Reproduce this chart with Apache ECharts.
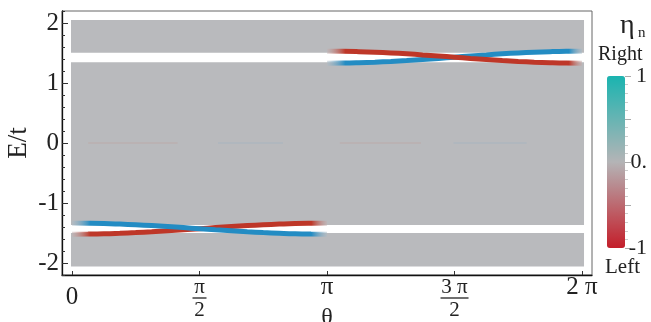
<!DOCTYPE html>
<html><head><meta charset="utf-8">
<script src="https://cdn.jsdelivr.net/npm/echarts@6/dist/echarts.min.js"></script>
<style>html,body{margin:0;padding:0;background:#fff}#c{width:651px;height:322px}</style>
</head><body><div id="c"></div>
<script>
// ---- data ----
const thetaLower = [0, 0.196, 0.393, 0.589, 0.785, 0.982, 1.178, 1.374, 1.571, 1.767, 1.963, 2.160, 2.356, 2.553, 2.749, 2.945, 3.142];
const thetaUpper = [3.142, 3.338, 3.534, 3.731, 3.927, 4.123, 4.320, 4.516, 4.712, 4.909, 5.105, 5.301, 5.498, 5.694, 5.890, 6.087, 6.283];
const lowerBlueE = [-1.336, -1.338, -1.343, -1.352, -1.363, -1.377, -1.393, -1.410, -1.428, -1.446, -1.463, -1.479, -1.493, -1.504, -1.513, -1.518, -1.520];
const lowerRedE  = [-1.520, -1.518, -1.513, -1.504, -1.493, -1.479, -1.463, -1.446, -1.428, -1.410, -1.393, -1.377, -1.363, -1.352, -1.343, -1.338, -1.336];
const upperRedE  = [1.530, 1.528, 1.522, 1.513, 1.501, 1.486, 1.468, 1.450, 1.430, 1.410, 1.392, 1.374, 1.359, 1.347, 1.338, 1.332, 1.330];
const upperBlueE = [1.330, 1.332, 1.338, 1.347, 1.359, 1.374, 1.392, 1.410, 1.430, 1.450, 1.468, 1.486, 1.501, 1.513, 1.522, 1.528, 1.530];
const bandLow  = [-2.06, -1.367, 1.505];
const bandHigh = [-1.5, 1.345, 2.05];
const bandTheta = [0, 6.283];
const zeroRedSegs  = [[0.2, 1.3], [3.3, 4.3]];
const zeroBlueSegs = [[1.8, 2.6], [4.7, 5.6]];
const xTickValues = [0, 1.5708, 3.1416, 4.7124, 6.2832];
const xTickLabels = ['0', 'π/2', 'π', '3 π/2', '2 π'];
const yTickValues = [-2, -1, 0, 1, 2];
const etaTickValues = [-1, 0, 1];
const etaTickLabels = ['-1', '0.', '1'];
const etaMajorTicks = [-1, -0.5, 0, 0.5, 1];

// ---- styles ----
const SERIF = '"Liberation Serif","DejaVu Serif",serif';
const GRAY = '#b9babd';
const BLUE = '#238cc3';
const RED = '#be3728';
const etaMinorTicks = [];
for (let k = -10; k <= 10; k++) if (k % 5 !== 0) etaMinorTicks.push(k / 10);
function fade(c, a, b) {
  return {type: 'linear', x: 0, y: 0, x2: 1, y2: 0, colorStops: [
    {offset: 0, color: 'rgba(195,195,198,0.4)'}, {offset: a, color: c},
    {offset: b, color: c}, {offset: 1, color: 'rgba(195,195,198,0.4)'}]};
}
function xLabel(v) {
  let i = 0, best = 1e9;
  xTickValues.forEach((t, k) => { if (Math.abs(t - v) < best) { best = Math.abs(t - v); i = k; } });
  const s = xTickLabels[i];
  if (s.indexOf('/') >= 0) {
    const p = s.split('/');
    return '{n|' + p[0] + '}\n{' + (p[0].length > 1 ? 'b2' : 'b1') + '| }\n{d|' + p[1] + '}';
  }
  return s.indexOf('π') >= 0 ? '{sp|' + s + '}' : '{s|' + s + '}';
}
function etaLabel(v) {
  let i = 0, best = 1e9;
  etaTickValues.forEach((t, k) => { if (Math.abs(t - v) < best) { best = Math.abs(t - v); i = k; } });
  return etaTickLabels[i];
}
function lineSeries(th, e, color, a, b) {
  return {type: 'line', data: th.map((t, i) => [t, e[i]]), smooth: true, symbol: 'none',
    lineStyle: {width: 5, color: fade(color, a, b)}, z: 5, silent: true};
}
function segSeries(segs, color) {
  const d = [];
  segs.forEach(s => { d.push([s[0], 0], [s[1], 0], '-'); });
  return {type: 'line', data: d, symbol: 'none', connectNulls: false,
    lineStyle: {width: 1.5, color: color}, z: 4, silent: true};
}

const chart = echarts.init(document.getElementById('c'), null, {renderer: 'canvas'});
chart.setOption({
  animation: false,
  backgroundColor: '#fff',
  grid: [
    {left: 62, top: 11, width: 530, height: 264, show: true, borderColor: '#666', borderWidth: 1,
     backgroundColor: 'transparent', outerBoundsMode: 'none', containLabel: false},
    {left: 607, top: 58.8, width: 18, height: 206.4, show: false, outerBoundsMode: 'none', containLabel: false}
  ],
  xAxis: [
    {type: 'value', gridIndex: 0, position: 'bottom', min: -0.123, max: 6.406,
     axisLine: {onZero: false, lineStyle: {color: '#111', width: 1.3}},
     axisTick: {inside: true, length: 4, customValues: xTickValues, lineStyle: {color: '#333'}},
     axisLabel: {customValues: xTickValues, margin: 4, formatter: xLabel, color: '#222',
       rich: {
         s: {fontFamily: SERIF, fontSize: 25, lineHeight: 36, color: '#222'},
         sp: {fontFamily: SERIF, fontSize: 25, lineHeight: 17, color: '#222'},
         n: {fontFamily: SERIF, fontSize: 21, lineHeight: 17, color: '#222'},
         d: {fontFamily: SERIF, fontSize: 21, lineHeight: 20, color: '#222'},
         b1: {width: 14, height: 1.3, lineHeight: 4, fontSize: 1, backgroundColor: '#222'},
         b2: {width: 28, height: 1.3, lineHeight: 4, fontSize: 1, backgroundColor: '#222'}
       }},
     splitLine: {show: false},
     name: 'θ', nameLocation: 'middle', nameGap: 31, nameMoveOverlap: false,
     nameTextStyle: {fontFamily: SERIF, fontSize: 24, color: '#222', verticalAlign: 'top'}},
    {type: 'value', gridIndex: 1, show: false, min: 0, max: 1, axisLine: {onZero: false}}
  ],
  yAxis: [
    {type: 'value', gridIndex: 0, position: 'left', min: -2.2, max: 2.2, interval: 0.2,
     axisLine: {show: true, onZero: false, lineStyle: {color: '#111', width: 1.3}},
     axisTick: {inside: true, length: 3, lineStyle: {color: '#333'}},
     axisLabel: {show: false}, splitLine: {show: false}},
    {type: 'value', gridIndex: 0, position: 'left', offset: 0, min: -2.2, max: 2.2,
     axisLine: {show: false, onZero: false},
     axisTick: {inside: true, length: 6, customValues: yTickValues, lineStyle: {color: '#333'}},
     axisLabel: {customValues: yTickValues, margin: 3, fontFamily: SERIF, fontSize: 25, color: '#222'},
     splitLine: {show: false},
     name: 'E/t', nameLocation: 'middle', nameRotate: 90, nameGap: 30, nameMoveOverlap: false,
     nameTextStyle: {fontFamily: SERIF, fontSize: 27, color: '#222'}},
    {type: 'value', gridIndex: 1, position: 'right', min: -1.2, max: 1.2,
     axisLine: {show: false, onZero: false},
     axisTick: {show: true, length: 6, customValues: etaMajorTicks, lineStyle: {color: '#aaa'}},
     axisLabel: {customValues: etaTickValues, margin: 22, align: 'right', fontFamily: SERIF, fontSize: 22,
       color: '#222', formatter: etaLabel},
     splitLine: {show: false}},
    {type: 'value', gridIndex: 1, position: 'right', offset: 0, min: -1.2, max: 1.2,
     axisLine: {show: false, onZero: false},
     axisTick: {show: true, length: 3, customValues: etaMinorTicks, lineStyle: {color: '#ccc'}},
     axisLabel: {show: false}, splitLine: {show: false}}
  ],
  visualMap: [{
    type: 'continuous', min: -1, max: 1, seriesIndex: [], orient: 'vertical',
    left: 607, top: 76, itemWidth: 18, itemHeight: 172, padding: 0,
    calculable: false, text: null, showLabel: false,
    inRange: {color: ['#c41e2a', '#b4b4b6', '#1ab4b0']}
  }],
  graphic: [
    {type: 'text', left: 620, top: 12, style: {text: 'η', font: '28px ' + SERIF, fill: '#222'}},
    {type: 'text', left: 638, top: 26, style: {text: 'n', font: '15px ' + SERIF, fill: '#222'}},
    {type: 'text', left: 598, top: 45, style: {text: 'Right', font: '20px ' + SERIF, fill: '#222'}},
    {type: 'text', left: 605, top: 257, style: {text: 'Left', font: '21px ' + SERIF, fill: '#222'}}
  ],
  series: [
    {type: 'custom', xAxisIndex: 0, yAxisIndex: 0, z: 2, silent: true,
     data: bandLow.map((l, i) => [bandTheta[0], bandTheta[1], l, bandHigh[i]]),
     encode: {x: [0, 1], y: [2, 3]},
     renderItem: (params, api) => {
       const p1 = api.coord([api.value(0), api.value(3)]);
       const p2 = api.coord([api.value(1), api.value(2)]);
       return {type: 'rect', shape: {x: p1[0] - 1, y: p1[1], width: p2[0] - p1[0] + 3, height: p2[1] - p1[1]},
         style: {fill: GRAY}};
     }},
    segSeries(zeroRedSegs, 'rgba(200,120,100,0.15)'),
    segSeries(zeroBlueSegs, 'rgba(110,160,200,0.15)'),
    lineSeries(thetaLower, lowerRedE, RED, 0.08, 0.93),
    lineSeries(thetaLower, lowerBlueE, BLUE, 0.08, 0.93),
    lineSeries(thetaUpper, upperBlueE, BLUE, 0.08, 0.94),
    lineSeries(thetaUpper, upperRedE, RED, 0.08, 0.94)
  ]
});
</script>
</body></html>
